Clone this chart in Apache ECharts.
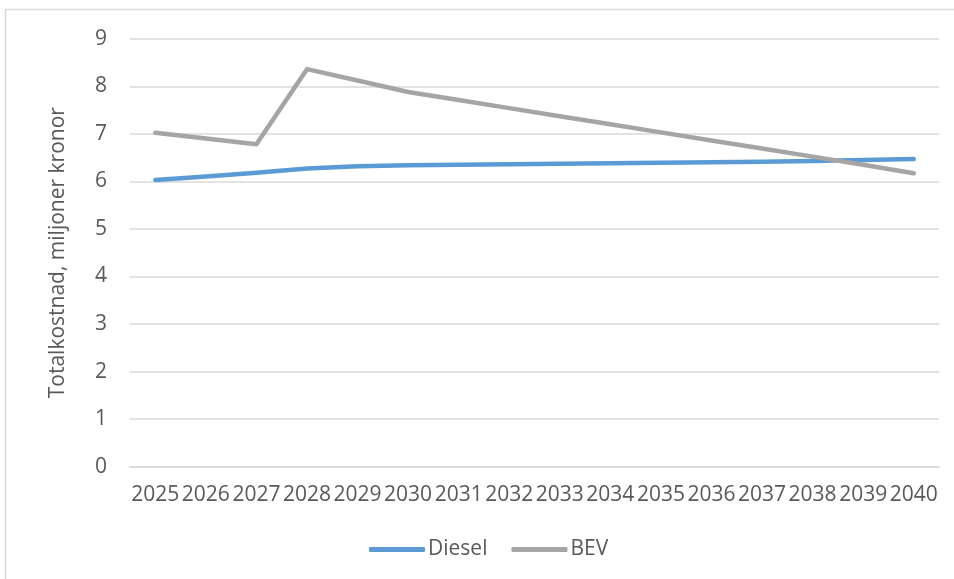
<!DOCTYPE html>
<html>
<head>
<meta charset="utf-8">
<script src="https://cdn.jsdelivr.net/npm/echarts@6/dist/echarts.min.js"></script>
<style>
html,body{margin:0;padding:0;background:#fff;}
#chart{width:954px;height:579px;}
</style>
</head>
<body>
<div id="chart"></div>
<script>
var years = ['2025','2026','2027','2028','2029','2030','2031','2032','2033','2034','2035','2036','2037','2038','2039','2040'];
var diesel = [6.03, 6.10, 6.18, 6.27, 6.32, 6.34, 6.35, 6.36, 6.37, 6.38, 6.39, 6.40, 6.41, 6.43, 6.45, 6.47];
var bev = [7.02, 6.90, 6.78, 8.36, 8.12, 7.88, 7.71, 7.54, 7.37, 7.20, 7.03, 6.86, 6.69, 6.52, 6.35, 6.17];
var yTicks = [0,1,2,3,4,5,6,7,8,9];

var font = '"Open Sans", "Noto Sans", sans-serif';
var chart = echarts.init(document.getElementById('chart'));
chart.setOption({
  animation: false,
  backgroundColor: '#fff',
  textStyle: {fontFamily: font},
  graphic: [{
    type: 'rect',
    shape: {x: 5.5, y: 9.5, width: 1000, height: 700},
    style: {fill: 'none', stroke: '#D9D9D9', lineWidth: 1.5},
    silent: true
  }],
  grid: {left: 130, right: 15, top: 38.7, bottom: 112.3},
  legend: {
    data: ['Diesel', 'BEV'],
    left: 364, top: 534,
    icon: 'roundRect',
    itemWidth: 56, itemHeight: 5, itemGap: 24,
    textStyle: {fontSize: 21, color: '#595959', fontFamily: font, padding: [0,0,0,-2]}
  },
  xAxis: {
    type: 'category',
    data: years,
    boundaryGap: true,
    axisLine: {lineStyle: {color: '#D9D9D9', width: 1.5}},
    axisTick: {show: false},
    axisLabel: {interval: 0, fontSize: 21, color: '#595959', margin: 18, fontFamily: font}
  },
  yAxis: {
    type: 'value',
    min: yTicks[0], max: yTicks[yTicks.length-1], interval: 1,
    name: 'Totalkostnad, miljoner kronor',
    nameLocation: 'middle',
    nameGap: 61,
    nameTextStyle: {fontSize: 21, color: '#595959', fontFamily: font},
    axisLine: {show: false},
    axisTick: {show: false},
    splitLine: {lineStyle: {color: '#D9D9D9', width: 1.5}},
    axisLabel: {fontSize: 21, color: '#595959', margin: 23, fontFamily: font}
  },
  series: [
    {name: 'Diesel', type: 'line', data: diesel, symbol: 'none',
     lineStyle: {color: '#5B9BD5', width: 4.5, cap: 'round', join: 'round'}, itemStyle: {color: '#5B9BD5'}},
    {name: 'BEV', type: 'line', data: bev, symbol: 'none',
     lineStyle: {color: '#A5A5A5', width: 4.5, cap: 'round', join: 'round'}, itemStyle: {color: '#A5A5A5'}}
  ]
});
</script>
</body>
</html>
